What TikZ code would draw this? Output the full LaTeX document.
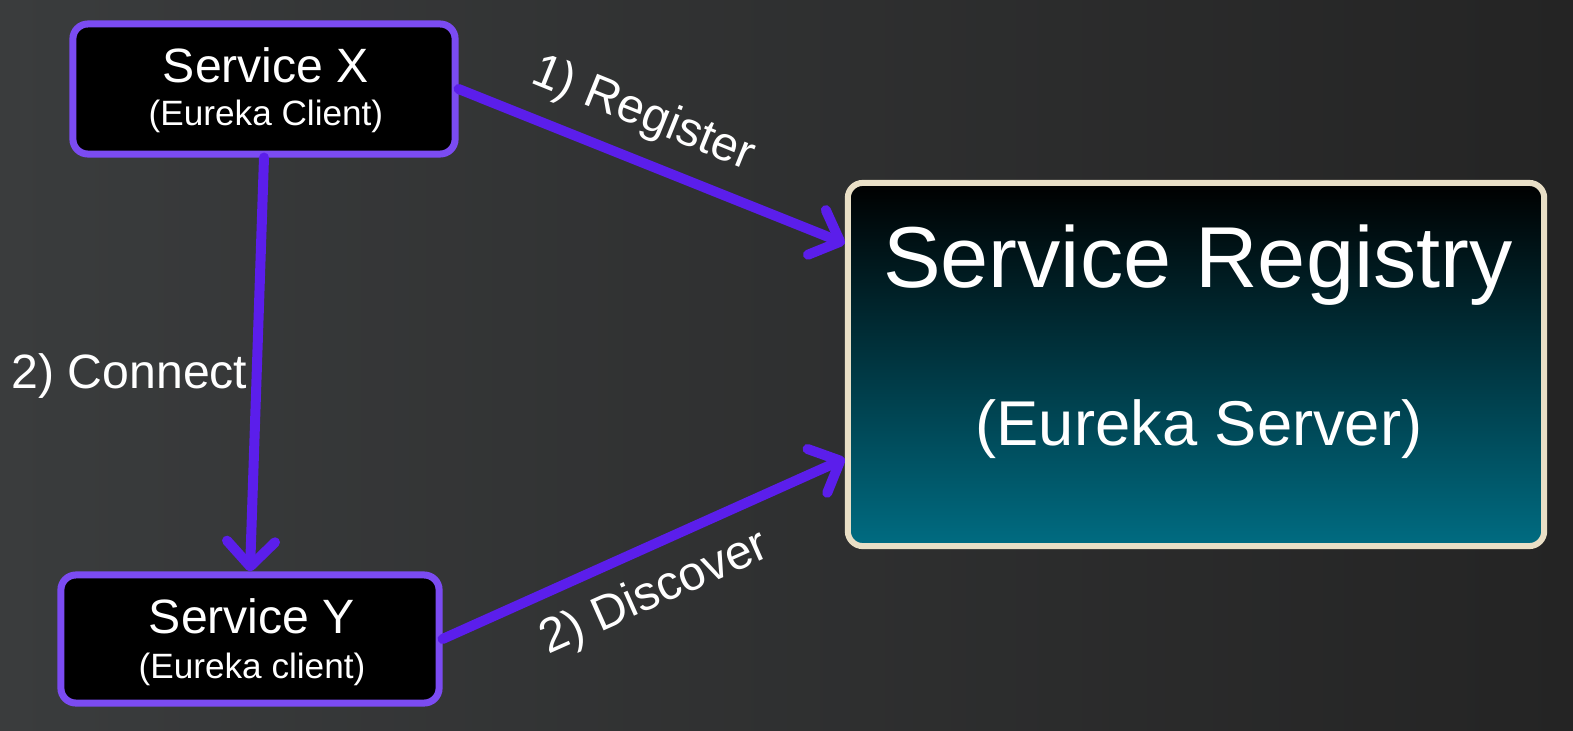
\documentclass[tikz,border=0pt]{standalone}
\usepackage{fontspec}
\setmainfont{Liberation Sans}
\usetikzlibrary{arrows.meta}
\definecolor{bgdark}{HTML}{242424}
\definecolor{bgleft}{HTML}{3A3C3D}
\definecolor{clientedge}{HTML}{7B4BF2}
\definecolor{flow}{HTML}{5B1EEB}
\definecolor{regedge}{HTML}{E9DFC6}
\definecolor{regteal}{HTML}{006C82}
\newcommand\clientname{\fontsize{13.7}{16}\selectfont}
\newcommand\clientsub{\fontsize{10}{12}\selectfont}
\newcommand\regbig{\fontsize{24.6}{29}\selectfont}
\newcommand\regsub{\fontsize{18}{22}\selectfont}
\newcommand\flowfont{\fontsize{13.7}{16}\selectfont}
\tikzstyle{client} = [draw=clientedge, fill=black, line width=0.07cm, rounded corners=0.15cm, inner sep=0pt]
\tikzstyle{registry} = [draw=regedge, top color=black, bottom color=regteal, line width=0.06cm, rounded corners=0.15cm, inner sep=0pt]
\tikzstyle{flowarrow} = [draw=flow, line width=0.1cm, line cap=round, -{Straight Barb[length=0.25cm,width=0.48cm,round]}]
\tikzstyle{txt} = [text=white, inner sep=0pt, anchor=base]

\begin{document}
\begin{tikzpicture}[x=0.01cm,y=-0.01cm]
  % background
  \fill[left color=bgleft, right color=bgdark] (0,0) rectangle (1573,730);
  \useasboundingbox (0,0) rectangle (1573,730);

  % boxes
  \node[client, minimum width=3.82cm, minimum height=1.3cm] (sx) at (264,89) {};
  \node[client, minimum width=3.78cm, minimum height=1.28cm] (sy) at (250,639) {};
  \node[registry, minimum width=6.96cm, minimum height=3.63cm] (reg) at (1196,364.5) {};

  % box texts
  \node[txt, font=\clientname] (sxname) at (266,82) {Service X};
  \node[txt, font=\clientsub] (sxsub) at (266,125) {(Eureka Client)};
  \node[txt, font=\clientname] (syname) at (252,633) {Service Y};
  \node[txt, font=\clientsub] (sysub) at (252,678) {(Eureka client)};
  \node[txt, font=\regbig] (regname) at (1198,287) {Service Registry};
  \node[txt, font=\regsub] (regsub) at (1199,445) {(Eureka Server)};

  % connectors
  \draw[flowarrow] (sx.east) -- (reg.161);
  \draw[flowarrow] (sy.east) -- (reg.195);
  \draw[flowarrow] (sx.south) -- (sy.north);

  % labels
  \node[text=white, font=\flowfont, rotate=-22, inner sep=0pt] (lblreg) at (643,115) {1) Register};
  \node[text=white, font=\flowfont, rotate=24, inner sep=0pt] (lbldisc) at (655,594) {2) Discover};
  \node[txt, font=\flowfont, anchor=base west] (lblconn) at (11,388) {2) Connect};
\end{tikzpicture}
\end{document}
